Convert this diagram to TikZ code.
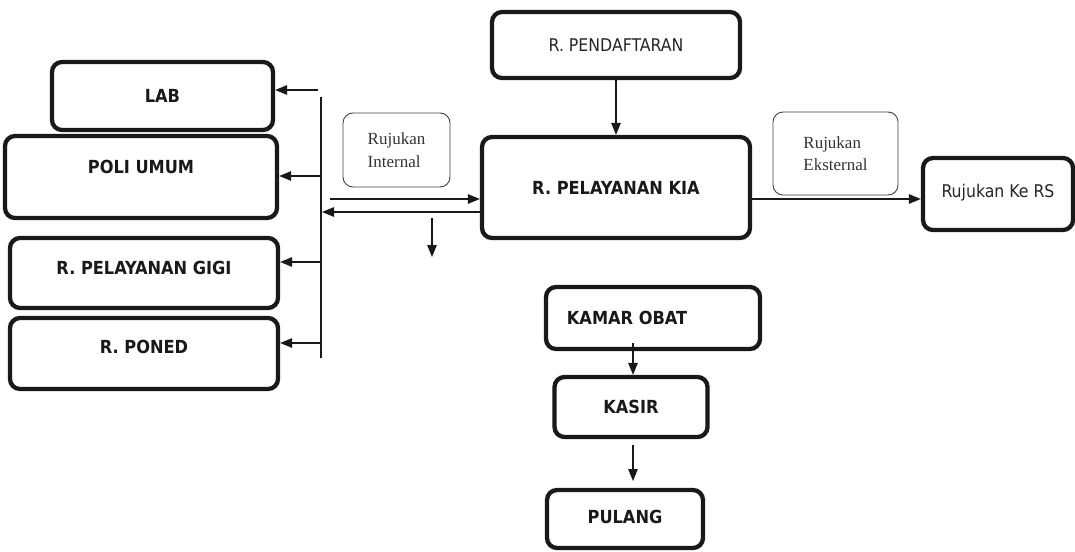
\documentclass[tikz,border=0pt]{standalone}
\usepackage{fontspec}
\setmainfont{DejaVu Sans}
\newfontfamily\cnd{DejaVu Sans Condensed}
\newfontfamily\tms{Liberation Serif}
\usetikzlibrary{arrows.meta}
\tikzset{
  box/.style={draw=black!90, line width=4.3pt, rounded corners=10pt, fill=white, inner sep=0pt},
  thinbox/.style={draw=black!75, line width=0.9pt, rounded corners=10pt, inner sep=0pt, align=left},
  lbl/.style={font=\cnd\bfseries\fontsize{18}{21}\selectfont, text=black!90},
  rlbl/.style={font=\cnd\fontsize{17.5}{21}\selectfont, text=black!85},
  arr/.style={line width=1.3pt, draw=black!90, -{Triangle[length=12pt,width=9.5pt]}},
  ln/.style={line width=1.1pt, draw=black!90}
}
\begin{document}
\begin{tikzpicture}[x=1pt,y=-1pt]
\useasboundingbox[fill=white] (0,0) rectangle (1075,551);
% left boxes
\node[box, lbl, minimum width=221pt, minimum height=68pt] (lab) at (162.5,96) {LAB};
\node[box, lbl, minimum width=272pt, minimum height=82pt, text depth=20pt] (poli) at (141,177) {POLI UMUM};
\node[box, lbl, minimum width=268pt, minimum height=70pt, text depth=10pt] (gigi) at (144,273) {R. PELAYANAN GIGI};
\node[box, lbl, minimum width=268pt, minimum height=71pt, text depth=13pt] (poned) at (144,353.5) {R. PONED};
% centre
\node[box, rlbl, minimum width=248pt, minimum height=66pt] (pend) at (616,45) {R. PENDAFTARAN};
\node[box, lbl, minimum width=268pt, minimum height=101pt] (kia) at (616,187.5) {R. PELAYANAN KIA};
\node[thinbox, minimum width=107pt, minimum height=74pt, font=\tms\fontsize{17}{23}\selectfont, text=black!80] (ri) at (396.5,150) {Rujukan\\Internal};
\node[thinbox, minimum width=125pt, minimum height=83pt, font=\tms\fontsize{17}{22}\selectfont, text=black!80] (re) at (835.5,153.5) {Rujukan\\Eksternal};
\node[box, rlbl, minimum width=150pt, minimum height=72pt, text depth=6pt] (rs) at (998,194) {Rujukan Ke RS};
\node[box, minimum width=214pt, minimum height=62pt,
      label={[lbl, xshift=-26pt]center:KAMAR OBAT}] (obat) at (653,318) {};
\node[box, lbl, minimum width=153pt, minimum height=60pt] (kasir) at (631,407) {KASIR};
\node[box, lbl, minimum width=156pt, minimum height=58pt, text depth=4pt] (pulang) at (625,519) {PULANG};
% vertical distribution line
\coordinate (vt) at (321,97);
\coordinate (vb) at (321,358);
\draw[ln] (vt) -- (vb);
\coordinate (a1) at (318,90);
\coordinate (a2) at (321,176);
\coordinate (a3) at (321,262);
\coordinate (a4) at (321,343);
\draw[arr] (a1) -- (a1 -| lab.east);
\draw[arr] (a2) -- (a2 -| poli.east);
\draw[arr] (a3) -- (a3 -| gigi.east);
\draw[arr] (a4) -- (a4 -| poned.east);
% internal referral arrows
\coordinate (ir) at (330,199);
\draw[arr] (ir) -- (ir -| kia.west);
\coordinate (il) at (322,212);
\draw[arr] (il -| kia.west) -- (il);
\coordinate (dt) at (432,218);
\coordinate (db) at (432,257);
\draw[arr] (dt) -- (db);
% registration -> KIA
\draw[arr] (pend.south) -- (kia.north);
% external
\coordinate (ex) at (750,199);
\draw[arr] (ex) -- (ex -| rs.west);
% bottom chain
\coordinate (k1) at (633,343);
\coordinate (k2) at (633,445);
\draw[arr] (k1) -- (k1 |- kasir.north);
\draw[arr] (k2) -- (633,481);
\end{tikzpicture}
\end{document}
